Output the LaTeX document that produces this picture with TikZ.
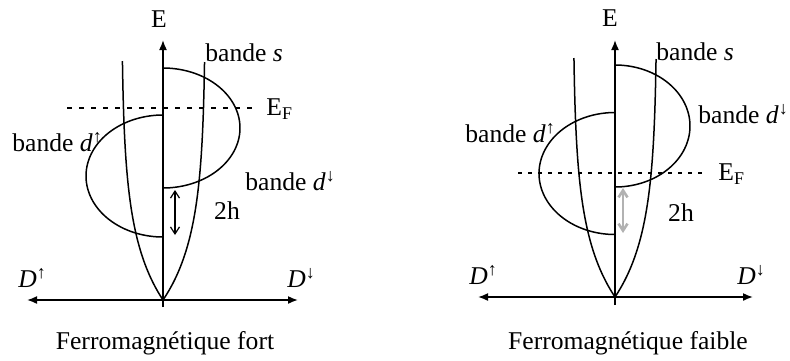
\documentclass[tikz,border=0pt]{standalone}
\usepackage{fontspec}
\setmainfont{Liberation Serif}
\usetikzlibrary{arrows.meta}
\begin{document}
\begin{tikzpicture}[x=0.5pt,y=-0.5pt,
  curve/.style={line width=0.75pt},
  axis/.style={line width=0.8pt},
  axtip/.style={-{Latex[length=5pt,width=4pt]}},
  axboth/.style={{Latex[length=5pt,width=4pt]}-{Latex[length=5pt,width=4pt]}},
  fermi/.style={line width=0.9pt, dash pattern=on 2.5pt off 3.5pt},
  gap/.style={line width=0.6pt, {Straight Barb[length=3.5pt,width=4.5pt]}-{Straight Barb[length=3.5pt,width=4.5pt]}},
  lbl/.style={inner sep=0pt, font=\fontsize{12.8}{15}\selectfont},
]
\useasboundingbox (0,0) rectangle (790,360);

% ---------------- left: ferromagnetique fort ----------------
\draw[axis,axtip] (163,307) -- (163,40);
\draw[axis,axboth] (27,300) -- (298,300);
\draw[curve] plot[domain=239:0,samples=60] ({163-41.5*(1-exp(-\x/63))},{300-\x})
  -- plot[domain=0:238,samples=60] ({163+42.5*(1-exp(-\x/63))},{300-\x});
\draw[curve] plot[domain=-90:90,samples=72] ({163-77*cos(\x)},{176+61*sin(\x)});
\draw[curve] plot[domain=-90:90,samples=72] ({163+77*cos(\x)},{128+60*sin(\x)});
\draw[fermi] (67,108) -- (253,108);
\draw[gap] (175,190) -- (175,235);

\node[lbl] (E1) at (159,19) {E};
\node[lbl,anchor=west] (s1) at (205,53) {bande \textit{s}};
\node[lbl,anchor=west] (EF1) at (266,109) {E\textsubscript{F}};
\node[lbl,anchor=west] (du1) at (12,142) {bande \textit{d}\textsuperscript{↑}};
\node[lbl,anchor=west] (dd1) at (245,181) {bande \textit{d}\textsuperscript{↓}};
\node[lbl] (h1) at (227,211) {2h};
\node[lbl,anchor=west] (Du1) at (18,278) {\textit{D}\textsuperscript{↑}};
\node[lbl,anchor=west] (Dd1) at (287,278) {\textit{D}\textsuperscript{↓}};
\node[lbl] (c1) at (165,343) {Ferromagnétique fort};

% ---------------- right: ferromagnetique faible ----------------
\draw[axis,axtip] (615,305) -- (615,40);
\draw[axis,axboth] (478,297) -- (753,297);
\draw[curve] plot[domain=239:0,samples=60] ({615-42*(1-exp(-\x/63))},{297-\x})
  -- plot[domain=0:238,samples=60] ({615+42*(1-exp(-\x/63))},{297-\x});
\draw[curve] plot[domain=-90:90,samples=72] ({615-76*cos(\x)},{173.5+61*sin(\x)});
\draw[curve] plot[domain=-90:90,samples=72] ({615+75*cos(\x)},{126+61*sin(\x)});
\draw[fermi, dash pattern=on 2pt off 3pt] (518,173) -- (705,173);
\draw[gap, gray!60, line width=1.3pt] (623,188) -- (623,233);

\node[lbl] (E2) at (610,18) {E};
\node[lbl,anchor=west] (s2) at (656,52) {bande \textit{s}};
\node[lbl,anchor=west] (EF2) at (718,174) {E\textsubscript{F}};
\node[lbl,anchor=west] (du2) at (465,133) {bande \textit{d}\textsuperscript{↑}};
\node[lbl,anchor=west] (dd2) at (698,114) {bande \textit{d}\textsuperscript{↓}};
\node[lbl] (h2) at (681,213) {2h};
\node[lbl,anchor=west] (Du2) at (469,275) {\textit{D}\textsuperscript{↑}};
\node[lbl,anchor=west] (Dd2) at (737,275) {\textit{D}\textsuperscript{↓}};
\node[lbl] (c2) at (628,343) {Ferromagnétique faible};
\end{tikzpicture}
\end{document}
